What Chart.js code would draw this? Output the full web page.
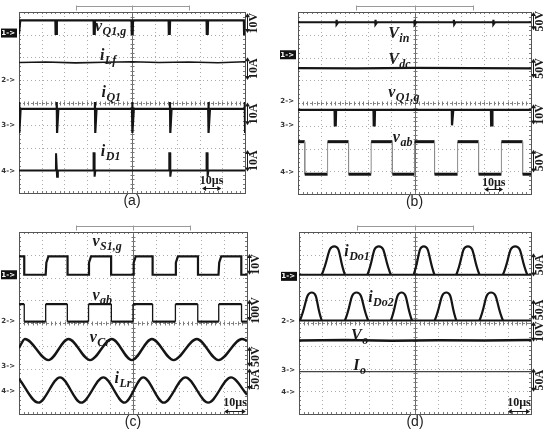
<!DOCTYPE html>
<html>
<head>
<meta charset="utf-8">
<script src="https://cdn.jsdelivr.net/npm/chart.js@4.4.1/dist/chart.umd.min.js"></script>
<style>
  html, body { margin: 0; padding: 0; background: #fff; }
  #wrap { position: relative; width: 550px; height: 440px; }
  #wrap canvas { position: absolute; }
</style>
</head>
<body>
<div id="wrap">
  <canvas id="scope-a" width="275" height="220" style="left:0;top:0"></canvas>
  <canvas id="scope-b" width="275" height="220" style="left:275px;top:0"></canvas>
  <canvas id="scope-c" width="275" height="220" style="left:0;top:220px"></canvas>
  <canvas id="scope-d" width="275" height="220" style="left:275px;top:220px"></canvas>
</div>
<script>
// x in microseconds (10 us / div, 10 div), y in screen divisions (0..8)

// (a) gate voltage, filter current, switch and diode currents
const aGateDipT = [0.2, 16.4, 33.3, 50.1, 66.5, 83.3, 99.8];
const aGateY = [7.63, 7.03];               // high level, dip bottom
const aLfT = [0, 12, 25, 38, 50, 62, 75, 88, 100];
const aLfY = [5.77, 5.79, 5.75, 5.78, 5.8, 5.77, 5.79, 5.76, 5.8];
const aQ1EdgeT = [0, 16.7, 33.6, 50.1, 66.8, 83.8, 99.9];
const aQ1Y = [3.72, 4.02, 2.65];            // level, overshoot, undershoot
const aD1PulseT = [16.7, 33.3, 66.8, 83.3];
const aD1Y = [1.0, 1.76, 0.72];             // base, top, undershoot

// (b) input, dc link, gate, bridge voltage
const bInSpikeT = [16.5, 33.2, 50, 66.9, 83.8];
const bInY = [7.55, 7.66, 7.46];
const bDcT = [0, 25, 50, 75, 100];
const bDcY = [5.53, 5.52, 5.54, 5.53, 5.52];
const bGateDipT = [16, 32.7, 66.3, 83.1];
const bGateY = [3.7, 3.02];
const bAbEdgeT = [2.9, 12.7, 21.7, 31.4, 40.5, 50, 58.6, 68.5, 77.5, 87.3, 96.4];
const bAbY = [2.3, 0.87];                   // high, low

// (c) gate, bridge voltage, resonant capacitor voltage and inductor current
const cGateEdgeT = [2.3, 11.7, 21.3, 30.4, 40.4, 50, 58.6, 68.5, 78.5, 87.5, 97.5];
const cGateY = [6.93, 6.12];
const cAbEdgeT = [2.3, 11.7, 21.2, 30.5, 40.5, 50, 58.6, 68.6, 78.4, 87.6, 97.6];
const cAbY = [4.83, 4.06];
const cCrT = [0, 2.6, 12.9, 21.7, 31.2, 40.7, 49.5, 58.3, 67.8, 78, 87.5, 97.8, 100];
const cCrY = [2.9, 3.3, 2.37, 3.3, 2.37, 3.3, 2.37, 3.3, 2.37, 3.3, 2.37, 3.3, 3.22];
const cLrT = [0, 8.5, 18, 27.3, 37, 46.3, 54.5, 63.5, 73, 83, 93, 100];
const cLrY = [1.55, 0.5, 1.61, 0.5, 1.61, 0.5, 1.61, 0.5, 1.61, 0.5, 1.61, 0.85];

// (d) output diode currents, output voltage and current
const dDo1Start = [9.8, 29.5, 49.4, 67.8, 87.9];
const dDo1Peak = [15.2, 34.4, 53.8, 72.8, 93.2];
const dDo1End = [19.8, 39.6, 58.4, 77.8, 98.4];
const dDo1Y = [6.12, 7.37];                 // base, crest
const dDo2Start = [0.4, 19.8, 39.6, 58.5, 77.8];
const dDo2Peak = [5.5, 24.8, 44.2, 63.5, 82.8];
const dDo2End = [9.8, 29.8, 48.7, 67.8, 87.9];
const dDo2Y = [4.11, 5.34];
const dVoT = [0, 20, 40, 60, 80, 100];
const dVoY = [3.23, 3.25, 3.22, 3.24, 3.23, 3.25];
const dIoT = [0, 50, 100];
const dIoY = [1.86, 1.86, 1.86];

const TRACE = '#151515';
const SERIF = '"Liberation Serif", "DejaVu Serif", serif';

function pairs(xs, ys) {
	return xs.map((x, i) => ({ x: x, y: ys[i] }));
}

function dipTrain(times, hi, lo) {
	const pts = [{ x: -1, y: hi }];
	times.forEach(t => {
		pts.push({ x: t - 0.3, y: hi }, { x: t - 0.2, y: lo }, { x: t + 0.2, y: lo }, { x: t + 0.35, y: hi });
	});
	pts.push({ x: 101, y: hi });
	return pts;
}

function spikeTrain(times, level, over, under) {
	const pts = [{ x: -1, y: level }];
	times.forEach(t => {
		pts.push({ x: t - 0.1, y: level }, { x: t, y: over }, { x: t + 0.15, y: under }, { x: t + 0.7, y: level });
	});
	pts.push({ x: 101, y: level });
	return pts;
}

function pulseTrain(times, base, top, under) {
	const pts = [{ x: -1, y: base }];
	times.forEach(t => {
		pts.push({ x: t - 0.35, y: base }, { x: t - 0.3, y: top }, { x: t + 0.1, y: top },
			{ x: t + 0.15, y: under }, { x: t + 0.5, y: base });
	});
	pts.push({ x: 101, y: base });
	return pts;
}

function squareWave(edges, hi, lo, roundRise) {
	let level = hi;
	const pts = [{ x: -1, y: level }];
	edges.forEach(t => {
		const next = level === hi ? lo : hi;
		pts.push({ x: t, y: level });
		if (roundRise && next === hi) {
			pts.push({ x: t + 0.3, y: hi - 0.28 }, { x: t + 1.2, y: hi });
		} else {
			pts.push({ x: t, y: next });
		}
		level = next;
	});
	pts.push({ x: 101, y: level });
	return pts;
}

// half-sine humps separated by gaps; the flat base is its own dataset
function humps(starts, peaks, ends, base, crest) {
	const pts = [];
	starts.forEach((s, i) => {
		pts.push({ x: s, y: base }, { x: peaks[i], y: crest }, { x: ends[i], y: base }, { x: ends[i] + 0.01, y: null });
	});
	return pts;
}

function trace(points, extra) {
	return Object.assign({
		data: points,
		borderColor: TRACE,
		borderWidth: 2,
		pointRadius: 0,
		tension: 0,
		fill: false
	}, extra || {});
}

const thinEdges = {
	borderColor: c => c.p0.parsed.x === c.p1.parsed.x ? '#8c8c8c' : undefined,
	borderWidth: c => c.p0.parsed.x === c.p1.parsed.x ? 1 : undefined
};

function drawArrowV(ctx, px, top, bottom) {
	ctx.beginPath();
	ctx.moveTo(px, top + 2);
	ctx.lineTo(px, bottom - 2);
	ctx.stroke();
	ctx.beginPath();
	ctx.moveTo(px, top); ctx.lineTo(px - 2.5, top + 4); ctx.lineTo(px + 2.5, top + 4); ctx.closePath();
	ctx.moveTo(px, bottom); ctx.lineTo(px - 2.5, bottom - 4); ctx.lineTo(px + 2.5, bottom - 4); ctx.closePath();
	ctx.fill();
}

function drawArrowH(ctx, left, right, py) {
	ctx.beginPath();
	ctx.moveTo(left + 2, py);
	ctx.lineTo(right - 2, py);
	ctx.stroke();
	ctx.beginPath();
	ctx.moveTo(left, py); ctx.lineTo(left + 4, py - 2.5); ctx.lineTo(left + 4, py + 2.5); ctx.closePath();
	ctx.moveTo(right, py); ctx.lineTo(right - 4, py - 2.5); ctx.lineTo(right - 4, py + 2.5); ctx.closePath();
	ctx.fill();
}

const scopePlugin = {
	id: 'scope',

	beforeDatasetsDraw(chart) {
		const { ctx, chartArea: a, scales: { x, y } } = chart;
		const px = v => Math.round(x.getPixelForValue(v)) + 0.5;
		const py = v => Math.round(y.getPixelForValue(v)) + 0.5;
		ctx.save();
		ctx.lineWidth = 1;

		// dotted division grid
		ctx.strokeStyle = '#ababab';
		ctx.setLineDash([1, 3]);
		ctx.beginPath();
		for (let i = 1; i < 10; i++) {
			if (i === 5) continue;
			ctx.moveTo(px(i * 10), a.top);
			ctx.lineTo(px(i * 10), a.bottom);
		}
		for (let j = 1; j < 8; j++) {
			if (j === 4) continue;
			ctx.moveTo(a.left, py(j));
			ctx.lineTo(a.right, py(j));
		}
		ctx.stroke();

		// centre cross
		const cx = px(50), cy = py(4);
		ctx.strokeStyle = '#8a8a8a';
		ctx.setLineDash([2, 2]);
		ctx.beginPath();
		ctx.moveTo(a.left, cy);
		ctx.lineTo(a.right, cy);
		ctx.stroke();
		ctx.setLineDash([]);
		ctx.strokeStyle = '#6a6a6a';
		ctx.beginPath();
		ctx.moveTo(cx, a.top);
		ctx.lineTo(cx, a.bottom);
		ctx.stroke();

		// minor ticks, five per division
		ctx.strokeStyle = '#7a7a7a';
		ctx.beginPath();
		for (let k = 1; k < 50; k++) {
			const tx = px(k * 2);
			ctx.moveTo(tx, cy - 2); ctx.lineTo(tx, cy + 2);
			ctx.moveTo(tx, a.top); ctx.lineTo(tx, a.top + 2);
			ctx.moveTo(tx, a.bottom); ctx.lineTo(tx, a.bottom - 2);
		}
		for (let k = 1; k < 40; k++) {
			const ty = py(k * 0.2);
			ctx.moveTo(cx - 2, ty); ctx.lineTo(cx + 2, ty);
			ctx.moveTo(a.left, ty); ctx.lineTo(a.left + 2, ty);
			ctx.moveTo(a.right, ty); ctx.lineTo(a.right - 2, ty);
		}
		ctx.stroke();

		// frame
		ctx.strokeStyle = '#555';
		ctx.strokeRect(Math.round(a.left) + 0.5, Math.round(a.top) + 0.5,
			Math.round(a.right - a.left), Math.round(a.bottom - a.top));
		ctx.restore();
	},

	afterDatasetsDraw(chart, args, o) {
		const { ctx, chartArea: a, scales: { x, y } } = chart;
		ctx.save();

		// memory bracket above the screen
		const bx0 = Math.round(x.getPixelForValue(25)) + 0.5;
		const bx1 = Math.round(x.getPixelForValue(75)) + 0.5;
		const bxc = Math.round(x.getPixelForValue(50)) + 0.5;
		const by = Math.round(a.top) - 5.5;
		ctx.strokeStyle = '#9a9a9a';
		ctx.lineWidth = 1;
		ctx.beginPath();
		ctx.moveTo(bx0, by); ctx.lineTo(bx1, by);
		[bx0, bx1, bxc].forEach(b => { ctx.moveTo(b, by - 1); ctx.lineTo(b, by + 4); });
		ctx.stroke();

		// channel ground markers
		ctx.textAlign = 'right';
		ctx.textBaseline = 'middle';
		ctx.font = 'bold 7px "DejaVu Sans", sans-serif';
		o.markers.forEach(m => {
			const my = y.getPixelForValue(m[1]);
			const right = a.left - 3;
			if (m[2]) {
				ctx.fillStyle = '#111';
				ctx.fillRect(right - 15, my - 4.5, 16, 9);
				ctx.fillStyle = '#fff';
			} else {
				ctx.fillStyle = '#333';
			}
			ctx.fillText(m[0], right - 1, my);
		});

		// volts / amps per division arrows
		ctx.fillStyle = '#1a1a1a';
		ctx.strokeStyle = '#1a1a1a';
		ctx.font = 'bold 12px ' + SERIF;
		o.arrows.forEach(r => {
			const top = y.getPixelForValue(r[1]);
			const bottom = y.getPixelForValue(r[0]);
			drawArrowV(ctx, a.right + 2.5, top, bottom);
			ctx.save();
			ctx.translate(a.right + 9, (top + bottom) / 2);
			ctx.rotate(-Math.PI / 2);
			ctx.textAlign = 'center';
			ctx.textBaseline = 'middle';
			ctx.fillText(r[2], 0, 0);
			ctx.restore();
		});

		// trace names
		ctx.textAlign = 'left';
		ctx.textBaseline = 'alphabetic';
		o.labels.forEach(l => {
			const lx = x.getPixelForValue(l[0]);
			const ly = y.getPixelForValue(l[1]);
			ctx.font = 'bold italic 16px ' + SERIF;
			ctx.fillText(l[2], lx, ly);
			const w = ctx.measureText(l[2]).width;
			ctx.font = 'bold italic 12px ' + SERIF;
			ctx.fillText(l[3], lx + w + 0.5, ly + 4);
		});

		// time base
		const t = o.timebar;
		const tl = x.getPixelForValue(t[0]);
		const tr = x.getPixelForValue(t[1]);
		ctx.font = 'bold 12px ' + SERIF;
		ctx.textAlign = 'center';
		ctx.textBaseline = 'middle';
		ctx.fillText('10\u00b5s', (tl + tr) / 2, y.getPixelForValue(t[2]));
		ctx.lineWidth = 1;
		drawArrowH(ctx, tl, tr, Math.round(y.getPixelForValue(t[3])) + 0.5);

		// sub-figure caption
		ctx.font = '14px "Liberation Sans", "DejaVu Sans", sans-serif';
		ctx.fillStyle = '#222';
		ctx.fillText(o.caption, (a.left + a.right) / 2, a.bottom + 8.5);
		ctx.restore();
	}
};

function scope(id, pad, datasets, deco) {
	return new Chart(document.getElementById(id), {
		type: 'line',
		data: { datasets: datasets },
		options: {
			responsive: false,
			animation: false,
			events: [],
			layout: { padding: pad },
			plugins: {
				legend: { display: false },
				tooltip: { enabled: false },
				scope: deco
			},
			scales: {
				x: { type: 'linear', min: 0, max: 100, display: false },
				y: { type: 'linear', min: 0, max: 8, display: false }
			}
		},
		plugins: [scopePlugin]
	});
}

scope('scope-a', { left: 19, top: 12, right: 30, bottom: 27 }, [
	trace(dipTrain(aGateDipT, aGateY[0], aGateY[1]), { borderWidth: 2.2 }),
	trace(pairs(aLfT, aLfY), { borderWidth: 1.6 }),
	trace(spikeTrain(aQ1EdgeT, aQ1Y[0], aQ1Y[1], aQ1Y[2]), { borderWidth: 2.2 }),
	trace(pulseTrain(aD1PulseT, aD1Y[0], aD1Y[1], aD1Y[2]), { borderWidth: 2 })
], {
	markers: [['1->', 7.07, true], ['2->', 5.0], ['3->', 3.0], ['4->', 0.95]],
	arrows: [[7.07, 7.95, '10V'], [5.0, 6.0, '10A'], [3.0, 4.0, '10A'], [0.95, 1.9, '10A']],
	labels: [[33.6, 7.15, 'v', 'Q1,g'], [35.8, 5.9, 'i', 'Lf'], [36.5, 4.25, 'i', 'Q1'], [36.2, 1.62, 'i', 'D1']],
	timebar: [81, 89.5, 0.52, 0.22],
	caption: '(a)'
});

scope('scope-b', { left: 23, top: 12, right: 19, bottom: 26 }, [
	trace(spikeTrain(bInSpikeT, bInY[0], bInY[1], bInY[2]), { borderWidth: 2.2 }),
	trace(pairs(bDcT, bDcY), { borderWidth: 2.2 }),
	trace(dipTrain(bGateDipT, bGateY[0], bGateY[1]), { borderWidth: 2.2 }),
	trace(squareWave(bAbEdgeT, bAbY[0], bAbY[1], false), { borderWidth: 3, segment: thinEdges })
], {
	markers: [['1->', 6.12, true], ['2->', 4.06], ['3->', 3.04], ['4->', 0.95]],
	arrows: [[7.2, 8.0, '50V'], [5.1, 5.95, '50V'], [3.05, 3.95, '10V'], [0.95, 1.95, '50V']],
	labels: [[38.7, 6.87, 'V', 'in'], [38.7, 5.72, 'V', 'dc'], [38.7, 4.25, 'v', 'Q1,g'], [40.7, 2.3, 'v', 'ab']],
	timebar: [80, 88, 0.48, 0.22],
	caption: '(b)'
});

scope('scope-c', { left: 19, top: 12, right: 28, bottom: 26 }, [
	trace(squareWave(cGateEdgeT, cGateY[0], cGateY[1], true), { borderWidth: 2.2 }),
	trace(squareWave(cAbEdgeT, cAbY[0], cAbY[1], false), { borderWidth: 2.2, segment: { borderWidth: c => c.p0.parsed.x === c.p1.parsed.x ? 1.3 : undefined } }),
	trace(pairs(cCrT, cCrY), { borderWidth: 2.4, cubicInterpolationMode: 'monotone' }),
	trace(pairs(cLrT, cLrY), { borderWidth: 2.4, cubicInterpolationMode: 'monotone' })
], {
	markers: [['1->', 6.12, true], ['2->', 4.09], ['3->', 2.08], ['4->', 1.01]],
	arrows: [[6.12, 7.03, '10V'], [4.09, 5.02, '100V'], [2.08, 2.96, '50V'], [1.05, 2.0, '50A']],
	labels: [[32.2, 7.4, 'v', 'S1,g'], [32.2, 5.0, 'v', 'ab'], [31, 3.17, 'v', 'Cr'], [41.9, 1.36, 'i', 'Lr']],
	timebar: [90, 99.5, 0.47, 0.15],
	caption: '(c)'
});

scope('scope-d', { left: 24, top: 12, right: 19, bottom: 26 }, [
	trace([{ x: 0, y: dDo1Y[0] }, { x: 100, y: dDo1Y[0] }], { borderWidth: 2.2 }),
	trace(humps(dDo1Start, dDo1Peak, dDo1End, dDo1Y[0], dDo1Y[1]), { borderWidth: 2.2, tension: 0.58, spanGaps: false }),
	trace([{ x: 0, y: dDo2Y[0] }, { x: 100, y: dDo2Y[0] }], { borderWidth: 2.2 }),
	trace(humps(dDo2Start, dDo2Peak, dDo2End, dDo2Y[0], dDo2Y[1]), { borderWidth: 2.2, tension: 0.58, spanGaps: false }),
	trace(pairs(dVoT, dVoY), { borderWidth: 2.6 }),
	trace(pairs(dIoT, dIoY), { borderWidth: 1.2, borderColor: '#444' })
], {
	markers: [['1->', 6.05, true], ['2->', 4.1], ['3->', 1.94], ['4->', 0.98]],
	arrows: [[6.04, 7.07, '50A'], [4.14, 5.02, '50A'], [3.18, 4.06, '10V'], [0.98, 2.0, '50A']],
	labels: [[19.5, 6.96, 'i', 'Do1'], [29.8, 4.93, 'i', 'Do2'], [22.4, 3.26, 'V', 'o'], [23.4, 1.95, 'I', 'o']],
	timebar: [90, 99.6, 0.47, 0.15],
	caption: '(d)'
});
</script>
</body>
</html>
